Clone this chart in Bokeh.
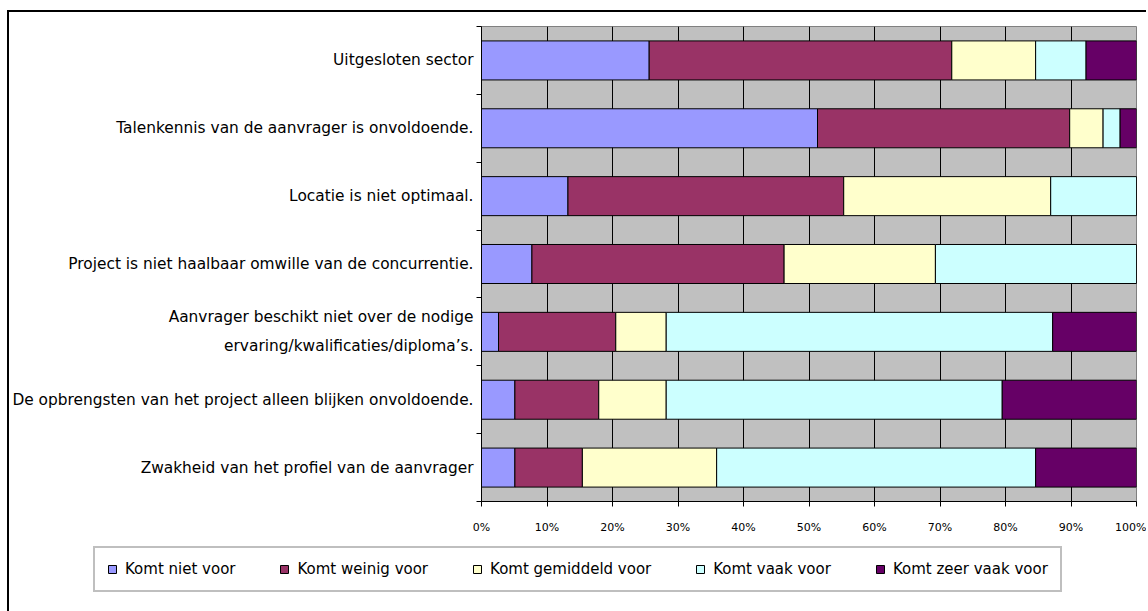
from bokeh.plotting import figure
from bokeh.models import ColumnDataSource, Range1d, FixedTicker, NumeralTickFormatter, Legend
from bokeh.layouts import column
from bokeh.embed import file_html
from bokeh.resources import INLINE

categories = [
    "Uitgesloten sector",
    "Talenkennis van de aanvrager is onvoldoende.",
    "Locatie is niet optimaal.",
    "Project is niet haalbaar omwille van de concurrentie.",
    "Aanvrager beschikt niet over de nodige\nervaring/kwalificaties/diploma\u2019s.",
    "De opbrengsten van het project alleen blijken onvoldoende.",
    "Zwakheid van het profiel van de aanvrager",
]
series_names = ["Komt niet voor", "Komt weinig voor", "Komt gemiddeld voor",
                "Komt vaak voor", "Komt zeer vaak voor"]
komt_niet = [25.6, 51.3, 13.2, 7.7, 2.6, 5.1, 5.1]
komt_weinig = [46.2, 38.5, 42.1, 38.5, 17.9, 12.8, 10.3]
komt_gemiddeld = [12.8, 5.1, 31.6, 23.1, 7.7, 10.3, 20.5]
komt_vaak = [7.7, 2.6, 13.1, 30.7, 59.0, 51.3, 48.7]
komt_zeer_vaak = [7.7, 2.5, 0.0, 0.0, 12.8, 20.5, 15.4]
x_ticks = [0, 10, 20, 30, 40, 50, 60, 70, 80, 90, 100]

colors = ["#9999FF", "#993366", "#FFFFCC", "#CCFFFF", "#660066"]
keys = ["niet", "weinig", "gemiddeld", "vaak", "zeer"]

n = len(categories)
ypos = [n - 0.5 - i for i in range(n)]
source = ColumnDataSource(dict(
    y=ypos,
    niet=[v / 100 for v in komt_niet],
    weinig=[v / 100 for v in komt_weinig],
    gemiddeld=[v / 100 for v in komt_gemiddeld],
    vaak=[v / 100 for v in komt_vaak],
    zeer=[v / 100 for v in komt_zeer_vaak],
))

W = 1137
p = figure(width=W, height=533, output_backend="svg", toolbar_location=None,
           x_range=Range1d(0, 1), y_range=Range1d(0, n),
           min_border_left=471, min_border_right=10, min_border_top=14, min_border_bottom=44)
p.background_fill_color = "#C0C0C0"
p.border_fill_color = "white"
p.outline_line_color = "#808080"
p.outline_line_width = 1

p.hbar_stack(keys, y="y", height=0.575, source=source,
             fill_color=colors, line_color="black", line_width=1)

# x axis
p.xaxis.ticker = FixedTicker(ticks=[t / 100 for t in x_ticks])
p.xaxis.formatter = NumeralTickFormatter(format="0%")
p.xaxis.major_tick_out = 5
p.xaxis.major_tick_in = 0
p.xaxis.minor_tick_line_color = None
p.xaxis.axis_line_color = "black"
p.xaxis.major_tick_line_color = "black"
p.xaxis.major_label_text_font = "DejaVu Sans"
p.xaxis.major_label_text_font_size = "11px"
p.xaxis.major_label_text_color = "black"
p.xaxis.major_label_standoff = 14

# y axis
p.yaxis.ticker = FixedTicker(ticks=ypos, minor_ticks=list(range(n + 1)))
p.yaxis.major_label_overrides = {y: c for y, c in zip(ypos, categories)}
p.yaxis.major_tick_out = 0
p.yaxis.major_tick_in = 0
p.yaxis.minor_tick_out = 5
p.yaxis.minor_tick_in = 0
p.yaxis.minor_tick_line_color = "black"
p.yaxis.axis_line_color = "black"
p.yaxis.major_label_text_font = "DejaVu Sans"
p.yaxis.major_label_text_font_size = "15.4px"
p.yaxis.major_label_text_color = "black"
p.yaxis.major_label_text_line_height = 1.6
p.yaxis.major_label_standoff = 3

# grid
p.xgrid.ticker = FixedTicker(ticks=[t / 100 for t in x_ticks])
p.xgrid.grid_line_color = "black"
p.xgrid.grid_line_width = 1
p.ygrid.grid_line_color = None

# legend panel: separate figure below the chart; its stacked bars are drawn
# small and fully covered by the opaque legend box, only the entries show
pl = figure(width=W, height=66, output_backend="svg", toolbar_location=None,
            x_range=Range1d(-0.2, 1.2), y_range=Range1d(-8, 12),
            min_border_left=0, min_border_right=0, min_border_top=0, min_border_bottom=0)
if "frame_align" in pl.properties():
    pl.frame_align = False
    p.frame_align = False
pl.axis.visible = False
pl.grid.visible = False
pl.outline_line_color = None
pl.background_fill_color = "white"
pl.border_fill_color = "white"
legend_renderers = pl.hbar_stack(keys, y="y", height=0.575, source=source,
                                 fill_color=colors, line_color="black", line_width=1)

legend = Legend(items=[(name, [r]) for name, r in zip(series_names, legend_renderers)],
                orientation="horizontal", location=(84, 19))
legend.glyph_width = 10
legend.glyph_height = 10
legend.label_standoff = 8
legend.spacing = 44
legend.padding = 12
legend.label_text_font = "DejaVu Sans"
legend.label_text_font_size = "15px"
legend.label_text_color = "black"
legend.border_line_color = "#808080"
legend.border_line_width = 2
legend.background_fill_color = "white"
legend.background_fill_alpha = 1
pl.add_layout(legend, "center")

layout = column(p, pl, spacing=0)
layout.styles = {"margin-left": "7px", "margin-top": "10px",
                 "border-top": "2px solid black", "border-left": "2px solid black"}

open("out.html", "w").write(file_html(layout, INLINE))
